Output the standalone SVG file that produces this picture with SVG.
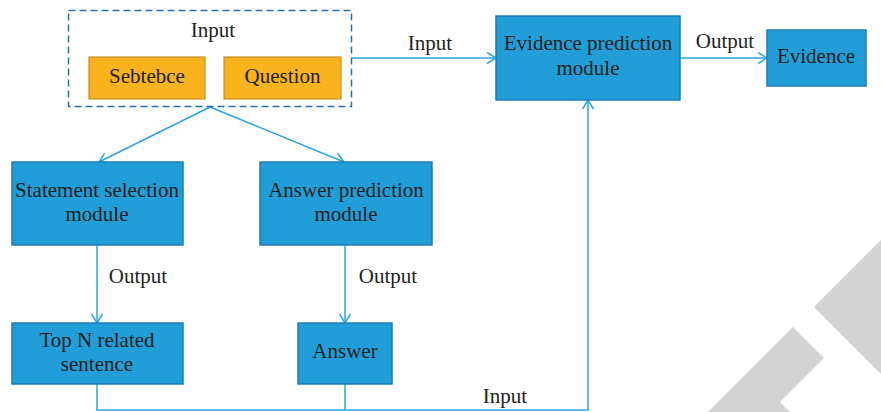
<svg xmlns="http://www.w3.org/2000/svg" width="881" height="412" viewBox="0 0 881 412">
  <style>
    .box { fill: #219DD8; stroke: #1E7DB2; stroke-width: 1.5; }
    .inbox { fill: #F9B31C; stroke: #C98E2A; stroke-width: 1.2; }
    .frame { fill: none; stroke: #2472A4; stroke-width: 1.5; stroke-dasharray: 7 4; }
    .label { font-family: "Liberation Serif", "Times New Roman", serif; font-size: 21px; fill: #231F20; text-anchor: middle; }
    .link { fill: none; stroke: #2AA4DE; stroke-width: 1.5; }
    .mark { fill: #D3D3D3; }
  </style>
  <defs>
    <marker id="arrow" markerUnits="userSpaceOnUse" markerWidth="14" markerHeight="14" refX="10" refY="6" orient="auto">
      <path d="M1,0.5 L10,6 L1,11.5" fill="none" stroke="#2AA4DE" stroke-width="1.5"/>
    </marker>
  </defs>

  <!-- corner mark -->
  <g id="corner-mark">
    <polygon class="mark" points="814,307 900,221 900,393"/>
    <polygon class="mark" points="793,327 824,358 780,402 790,412 708,412"/>
  </g>

  <!-- connectors -->
  <g id="connectors">
    <line class="link" x1="352" y1="58" x2="496" y2="58" marker-end="url(#arrow)"/>
    <line class="link" x1="680" y1="58" x2="767" y2="58" marker-end="url(#arrow)"/>
    <line class="link" x1="210" y1="107" x2="99" y2="162" marker-end="url(#arrow)"/>
    <line class="link" x1="210" y1="107" x2="344" y2="162" marker-end="url(#arrow)"/>
    <line class="link" x1="97" y1="245" x2="97" y2="323" marker-end="url(#arrow)"/>
    <line class="link" x1="345" y1="245" x2="345" y2="323" marker-end="url(#arrow)"/>
    <polyline class="link" points="97,384 97,410 588,410 588,100" marker-end="url(#arrow)"/>
    <line class="link" x1="345" y1="384" x2="345" y2="410"/>
    <text class="label" x="430" y="50">Input</text>
    <text class="label" x="725" y="48">Output</text>
    <text class="label" x="138" y="283">Output</text>
    <text class="label" x="388" y="283">Output</text>
    <text class="label" x="505" y="403">Input</text>
  </g>

  <!-- input frame -->
  <g id="input">
    <rect class="frame" x="68.5" y="10.5" width="283" height="96"/>
    <text class="label" x="213" y="37">Input</text>
  </g>
  <g id="sentence">
    <rect class="inbox" x="89" y="57" width="116" height="42"/>
    <text class="label" x="147" y="83">Sebtebce</text>
  </g>
  <g id="question">
    <rect class="inbox" x="224" y="57" width="117" height="42"/>
    <text class="label" x="282.5" y="83">Question</text>
  </g>

  <!-- modules -->
  <g id="statement-selection">
    <rect class="box" x="12" y="162" width="171" height="83"/>
    <text class="label" x="97" y="197">Statement selection</text>
    <text class="label" x="97" y="221">module</text>
  </g>
  <g id="answer-prediction">
    <rect class="box" x="260" y="162" width="172" height="83"/>
    <text class="label" x="346" y="197">Answer prediction</text>
    <text class="label" x="346" y="221">module</text>
  </g>
  <g id="top-n">
    <rect class="box" x="12" y="323" width="171" height="61"/>
    <text class="label" x="97" y="347">Top N related</text>
    <text class="label" x="97" y="371">sentence</text>
  </g>
  <g id="answer">
    <rect class="box" x="298" y="323" width="94" height="61"/>
    <text class="label" x="345" y="358">Answer</text>
  </g>
  <g id="evidence-prediction">
    <rect class="box" x="496" y="16" width="184" height="84"/>
    <text class="label" x="588" y="50">Evidence prediction</text>
    <text class="label" x="588" y="75">module</text>
  </g>
  <g id="evidence">
    <rect class="box" x="767" y="30" width="99" height="56"/>
    <text class="label" x="816" y="63">Evidence</text>
  </g>
</svg>
